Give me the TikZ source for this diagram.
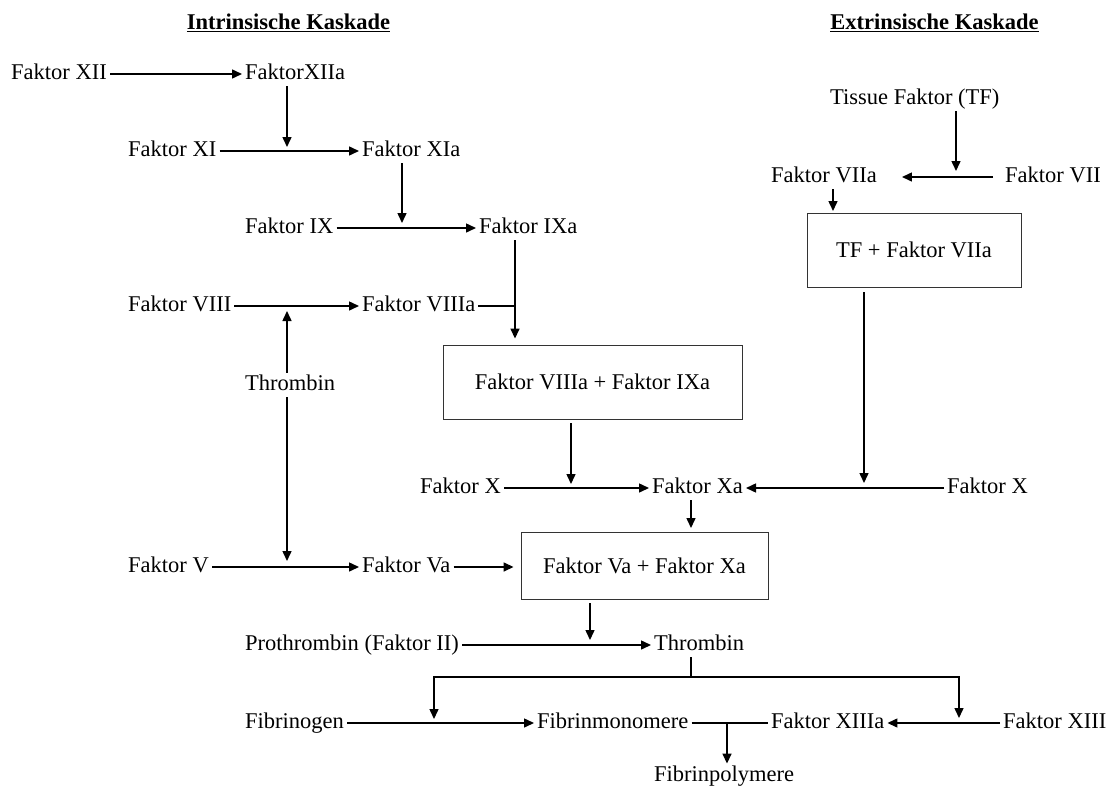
\documentclass[tikz,border=0pt]{standalone}
\usepackage{fontspec}
\setmainfont{Liberation Serif}
\usetikzlibrary{arrows.meta,positioning}

\tikzset{
  lbl/.style={anchor=west, inner xsep=3pt, inner ysep=2pt, text height=15.5pt, text depth=5pt, font=\fontsize{22.5}{27}\selectfont},
  titel/.style={anchor=base, inner sep=0pt, font=\bfseries\fontsize{22.5}{27}\selectfont},
  komplex/.style={draw=black!80, line width=0.9pt, inner sep=0pt, font=\fontsize{22.5}{27}\selectfont},
  pfeil/.style={-{Triangle[length=10pt,width=9pt]}, line width=1.5pt},
  linie/.style={line width=1.5pt}
}

\begin{document}
\begin{tikzpicture}[x=1pt,y=-1pt]
        \useasboundingbox (0,0) rectangle (1112,787);
        % Titel
        \node[titel] (tin) at (288.5,29.5) {\underline{Intrinsische Kaskade}};
        \node[titel] (tex) at (934.5,29.5) {\underline{Extrinsische Kaskade}};
        % intrinsische Kaskade
        \node[lbl] (f12) at (8,74) {Faktor XII};
        \node[lbl] (f12a) at (242,74) {FaktorXIIa};
        \node[lbl] (f11) at (125,151) {Faktor XI};
        \node[lbl] (f11a) at (359,151) {Faktor XIa};
        \node[lbl] (f9) at (242,228) {Faktor IX};
        \node[lbl] (f9a) at (476,228) {Faktor IXa};
        \node[lbl] (f8) at (125,306) {Faktor VIII};
        \node[lbl] (f8a) at (359,306) {Faktor VIIIa};
        \node[lbl] (thr1) at (242,385) {Thrombin};
        \node[komplex, minimum width=299pt, minimum height=74pt] (k1) at (592.5,382) {Faktor VIIIa + Faktor IXa};
        % extrinsische Kaskade
        \node[lbl] (tf) at (827,99) {Tissue Faktor (TF)};
        \node[lbl] (f7a) at (768,177) {Faktor VIIa};
        \node[lbl] (f7) at (1002,177) {Faktor VII};
        \node[komplex, minimum width=214pt, minimum height=74pt] (k2) at (914,250) {TF + Faktor VIIa};
        % gemeinsamer Weg
        \node[lbl] (f10l) at (417,488) {Faktor X};
        \node[lbl] (f10a) at (649,488) {Faktor Xa};
        \node[lbl] (f10r) at (944,488) {Faktor X};
        \node[lbl] (f5) at (125,567) {Faktor V};
        \node[lbl] (f5a) at (359,567) {Faktor Va};
        \node[komplex, minimum width=247pt, minimum height=67pt] (k3) at (644.5,565.5) {Faktor Va + Faktor Xa};
        \node[lbl] (pro) at (242,645) {Prothrombin (Faktor II)};
        \node[lbl] (thr2) at (651,645) {Thrombin};
        \node[lbl] (fgen) at (242,723) {Fibrinogen};
        \node[lbl] (fmono) at (534,723) {Fibrinmonomere};
        \node[lbl] (f13a) at (768,723) {Faktor XIIIa};
        \node[lbl] (f13) at (1000,723) {Faktor XIII};
        \node[lbl] (fpoly) at (651,776) {Fibrinpolymere};
        % Knickpunkte
        \coordinate (j12) at (287,147);
        \coordinate (j11) at (402,223);
        \coordinate (j9) at (515,306);
        \coordinate (jt) at (287,311);
        \coordinate (jt2) at (287,561);
        \coordinate (jk1) at (571,484);
        \coordinate (jtf) at (956,171);
        \coordinate (jf7a) at (833,211);
        \coordinate (jk2) at (864,483);
        \coordinate (jxa) at (691,528);
        \coordinate (jk3) at (590,640);
        \coordinate (jth) at (691,677);
        \coordinate (jl) at (434,719);
        \coordinate (jr) at (959,718);
        \coordinate (jm) at (727,723);
        % Pfeile intrinsisch
        \draw[pfeil] (f12) -- (f12a);
        \draw[pfeil] (f12a.south -| j12) -- (j12);
        \draw[pfeil] (f11) -- (f11a);
        \draw[pfeil] (f11a.south -| j11) -- (j11);
        \draw[pfeil] (f9) -- (f9a);
        \draw[pfeil, shorten >=6pt] (f9a.south -| j9) -- (k1.north -| j9);
        \draw[pfeil] (f8) -- (f8a);
        \draw[linie] (f8a) -- (j9);
        \draw[pfeil] (thr1.north -| jt) -- (jt);
        \draw[pfeil] (thr1.south -| jt) -- (jt2);
        \draw[pfeil, shorten <=4pt] (k1.south -| jk1) -- (jk1);
        % Pfeile extrinsisch
        \draw[pfeil] (tf.south -| jtf) -- (jtf);
        \draw[pfeil, shorten <=9pt, shorten >=22pt] (f7) -- (f7a);
        \draw[pfeil] (f7a.south -| jf7a) -- (jf7a);
        \draw[pfeil, shorten <=5pt] (k2.south -| jk2) -- (jk2);
        % Pfeile gemeinsam
        \draw[pfeil] (f10l) -- (f10a);
        \draw[pfeil] (f10r) -- (f10a);
        \draw[pfeil] (f10a.south -| jxa) -- (jxa);
        \draw[pfeil] (f5) -- (f5a);
        \draw[pfeil, shorten >=7pt] (f5a.east) -- (f5a.east -| k3.west);
        \draw[pfeil, shorten <=4pt] (k3.south -| jk3) -- (jk3);
        \draw[pfeil] (pro) -- (thr2);
        \draw[linie] (thr2.south -| jth) -- (jth);
        \draw[pfeil] (jth) -| (jl);
        \draw[pfeil] (jth) -| (jr);
        \draw[pfeil] (fgen) -- (fmono);
        \draw[linie] (fmono) -- (f13a);
        \draw[pfeil] (f13) -- (f13a);
        \draw[pfeil] (jm) -- (fpoly.north -| jm);
\end{tikzpicture}
\end{document}
